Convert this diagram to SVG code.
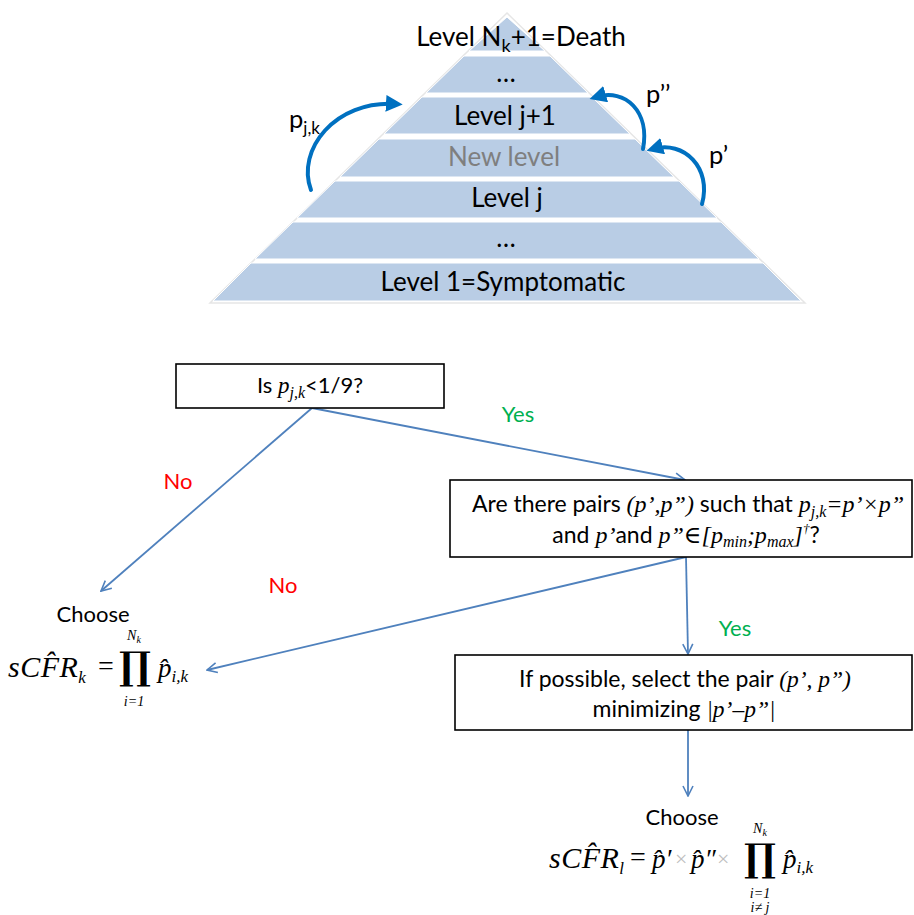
<svg xmlns="http://www.w3.org/2000/svg" width="914" height="915" viewBox="0 0 914 915">
  <defs>
    <style>
      .sans { font-family: Lato, "Open Sans", "Liberation Sans", sans-serif; fill: #000; }
      .math { font-family: "Liberation Serif", "DejaVu Serif", serif; font-style: italic; fill: #000; }
      .mathup { font-family: "Liberation Serif", "DejaVu Serif", serif; fill: #000; }
      .prod { font-family: "DejaVu Serif", "Liberation Serif", serif; font-weight: bold; fill: #000; text-anchor: middle; }
      .band { fill: #b9cde5; stroke: #ffffff; stroke-width: 1; }
      .lvl { font-size: 26px; text-anchor: middle; }
      .box { fill: #ffffff; stroke: #000000; stroke-width: 1.6; }
      .flow { fill: none; stroke: #4f81bd; stroke-width: 1.8; marker-end: url(#vhead); }
      .loop { fill: none; stroke: #0070c0; stroke-width: 4; stroke-linecap: round; marker-end: url(#solidhead); }
      .yes { fill: #00b050; font-size: 22px; text-anchor: middle; }
      .no { fill: #ff0000; font-size: 22px; text-anchor: middle; }
      .txt { font-size: 22px; text-anchor: middle; }
      .btxt { font-size: 23px; text-anchor: middle; }
      .times { fill: #bfbfbf; }
    </style>
    <marker id="vhead" viewBox="0 0 12 12" refX="11" refY="6" markerWidth="12" markerHeight="12" orient="auto" markerUnits="userSpaceOnUse">
      <path d="M1,1 L11,6 L1,11" fill="none" stroke="#4f81bd" stroke-width="1.6"/>
    </marker>
    <marker id="solidhead" viewBox="0 0 10 10" refX="6" refY="5" markerWidth="4.2" markerHeight="4.2" orient="auto">
      <path d="M0,0 L10,5 L0,10 Z" fill="#0070c0"/>
    </marker>
  </defs>

  <rect width="914" height="915" fill="#ffffff"/>

  <!-- Pyramid of severity levels -->
  <g id="pyramid">
    <polygon points="507,13 210,303 805,303" fill="#ffffff" stroke="#e6e6e6" stroke-width="1.5"/>
    <g id="level-top">
      <polygon class="band" points="507,17 545,51 469,51"/>
      <text class="sans lvl" x="521" y="46">Level N<tspan font-size="18" dy="6">k</tspan><tspan dy="-6">+1=Death</tspan></text>
    </g>
    <g id="level-upper-dots">
      <polygon class="band" points="464,56 550,56 588,93 426,93"/>
      <text class="sans lvl" x="506" y="82">…</text>
    </g>
    <g id="level-j-plus-1">
      <polygon class="band" points="422,97 592,97 630,134 384,134"/>
      <text class="sans lvl" x="505" y="125">Level j+1</text>
    </g>
    <g id="level-new">
      <polygon class="band" points="379,139 635,139 674,177 340,177"/>
      <text class="sans lvl" x="504" y="166" style="fill:#7f7f7f">New level</text>
    </g>
    <g id="level-j">
      <polygon class="band" points="335,181 679,181 717,218 297,218"/>
      <text class="sans lvl" x="507" y="207">Level j</text>
    </g>
    <g id="level-lower-dots">
      <polygon class="band" points="293,222 721,222 759,259 255,259"/>
      <text class="sans lvl" x="506" y="247">…</text>
    </g>
    <g id="level-1">
      <polygon class="band" points="251,263 763,263 801,301 213,301"/>
      <text class="sans lvl" x="503" y="291">Level 1=Symptomatic</text>
    </g>
  </g>

  <!-- Transitions between levels -->
  <g id="level-transitions">
    <path class="loop" d="M311,190 C296,150 335,100 396,104"/>
    <path class="loop" d="M643,149 C650,112 626,88 596,97"/>
    <path class="loop" d="M702,204 C712,168 684,140 653,149"/>
    <text class="sans" x="289" y="128" font-size="25.5">p<tspan font-size="17" dy="6">j,k</tspan></text>
    <text class="sans" x="646" y="103" font-size="25.5">p’’</text>
    <text class="sans" x="709" y="164" font-size="25.5">p’</text>
  </g>

  <!-- Flowchart connectors -->
  <g id="connectors">
    <line class="flow" x1="312" y1="408" x2="101" y2="591"/>
    <line class="flow" x1="312" y1="408" x2="685" y2="480"/>
    <line class="flow" x1="686" y1="557" x2="207" y2="670"/>
    <line class="flow" x1="686" y1="557" x2="688" y2="654"/>
    <line class="flow" x1="688" y1="730" x2="688" y2="796"/>
    <text class="sans yes" x="518" y="422">Yes</text>
    <text class="sans no" x="178" y="489">No</text>
    <text class="sans no" x="283" y="593">No</text>
    <text class="sans yes" x="735" y="636">Yes</text>
  </g>

  <g id="decision-threshold">
    <rect class="box" x="176" y="364" width="268" height="44"/>
    <text class="sans txt" x="310" y="393">Is <tspan class="math" font-size="23">p</tspan><tspan class="math" font-size="16" dy="5">j,k</tspan><tspan dy="-5">&lt;1/9?</tspan></text>
  </g>

  <g id="decision-pairs">
    <rect class="box" x="450" y="480" width="462" height="77"/>
    <text class="sans btxt" x="688" y="512">Are there pairs <tspan class="math" font-size="24">(p’,p”)</tspan> such that <tspan class="math" font-size="24">p</tspan><tspan class="math" font-size="16" dy="5">j,k</tspan><tspan class="math" font-size="24" dy="-5">=p’×p”</tspan></text>
    <text class="sans btxt" x="686" y="543">and <tspan class="math" font-size="24">p’</tspan>and <tspan class="math" font-size="24">p”∈[p</tspan><tspan class="math" font-size="16" dy="4">min</tspan><tspan class="math" font-size="24" dy="-4">;p</tspan><tspan class="math" font-size="16" dy="4">max</tspan><tspan class="math" font-size="24" dy="-4">]</tspan><tspan class="math" font-size="13" dy="-10">†</tspan><tspan dy="10">?</tspan></text>
  </g>

  <g id="select-pair">
    <rect class="box" x="455" y="655" width="457" height="75"/>
    <text class="sans btxt" x="685" y="687">If possible, select the pair <tspan class="math" font-size="23.5">(p’, p”)</tspan></text>
    <text class="sans btxt" x="684" y="717">minimizing <tspan class="math" font-size="23.5">|p’–p”|</tspan></text>
  </g>

  <!-- Estimate when no split is used -->
  <g id="result-standard">
    <text class="sans txt" x="93" y="622">Choose</text>
    <text class="math" x="8" y="677" font-size="30" letter-spacing="0.5">sCF̂R<tspan font-size="17" dy="6">k</tspan></text>
    <text class="mathup" x="98" y="675" font-size="28">=</text>
    <text class="prod" x="135" y="679" font-size="38">∏</text>
    <text class="math" x="134" y="640" font-size="14" text-anchor="middle">N<tspan font-size="10" dy="3">k</tspan></text>
    <text class="math" x="134" y="706" font-size="14" text-anchor="middle">i=1</text>
    <text class="math" x="158" y="677" font-size="27">p̂<tspan font-size="17" dy="5">i,k</tspan></text>
  </g>

  <!-- Estimate with the split level -->
  <g id="result-split">
    <text class="sans txt" x="682" y="825">Choose</text>
    <text class="math" x="549" y="868" font-size="30" letter-spacing="0.5">sCF̂R<tspan font-size="17" dy="6">l</tspan></text>
    <text class="mathup" x="630" y="866" font-size="28">=</text>
    <text class="math" x="652" y="868" font-size="27">p̂′</text>
    <text class="mathup times" x="675" y="866" font-size="22">×</text>
    <text class="math" x="691" y="868" font-size="27">p̂″</text>
    <text class="mathup times" x="717" y="866" font-size="22">×</text>
    <text class="prod" x="760" y="871" font-size="38">∏</text>
    <text class="math" x="760" y="833" font-size="14" text-anchor="middle">N<tspan font-size="10" dy="3">k</tspan></text>
    <text class="math" x="760" y="898" font-size="14" text-anchor="middle">i=1</text>
    <text class="math" x="760" y="912" font-size="14" text-anchor="middle">i≠ j</text>
    <text class="math" x="783" y="868" font-size="27">p̂<tspan font-size="17" dy="5">i,k</tspan></text>
  </g>
</svg>
